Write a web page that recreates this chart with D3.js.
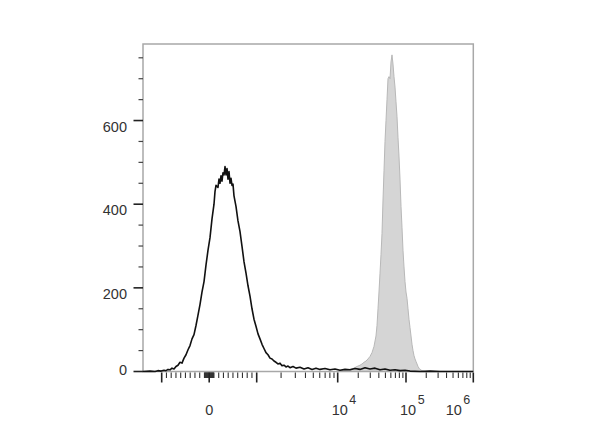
<!DOCTYPE html>
<html>
<head>
<meta charset="utf-8">
<script src="https://cdn.jsdelivr.net/npm/d3@7/dist/d3.min.js"></script>
<style>
  html, body { margin: 0; padding: 0; background: #fff; }
  svg { display: block; }
  text { font-family: "Liberation Sans", Arial, sans-serif; fill: #333; }
</style>
</head>
<body>
<svg id="chart" width="600" height="448"></svg>
<script>
// ---------------- DATA ----------------
// Control (black line) histogram: fluorescence intensity -> count
const blackX = [-2480,-1760,-1380,-1200,-1030,-951,-909,-867,-825,-783,-741,-699,-657,-615,-573,-530,-488,-446,-404,-362,-320,-278,-236,-194,-152,-109,-67,-25,17,59,101,122,143,185,206,227,248,269,290,312,333,354,375,396,417,438,459,480,501,522,564,606,648,690,733,775,817,859,901,943,985,1038,1098,1163,1230,1302,1379,1459,1545,1635,1731,1832,1940,2053,2173,2301,2435,2578,2806,3057,3424,3837,4299,4816,5397,6046,6970,8035,9262,10800,12790,15140,17920,21210,25100,29720,35170,41630,49270,58320,69020,81700,96690,114700,161400,227300,320000,450700,634500,1000000];
const blackCounts = [0,1,0,2,1,3,2,5,4,8,6,12,15,22,20,32,40,52,62,78,88,110,135,160,190,215,255,290,320,365,400,430,445,440,460,450,468,455,475,470,490,470,485,460,478,450,462,445,448,420,395,360,335,300,262,235,205,180,150,125,108,90,78,65,55,45,40,32,30,25,22,18,20,14,15,11,13,9,12,8,10,6,9,5,8,5,7,4,6,3,5,4,7,5,9,6,8,4,6,3,4,2,3,1,0,1,0,0,0,0];

// Stained sample (grey filled) histogram
const greyX = [10800,12790,15140,17330,19180,21210,22690,24270,25960,27770,29720,31780,34000,36370,37620,38910,40240,41630,43050,44530,46060,47640,49270,50960,52710,54510,56380,58320,60310,62370,64510,66720,69020,71380,73820,76350,78970,81700,84490,87380,90370,93480,96690,100000,103500,107100,110800,114700,118700,122800,127100,131500,136000,140800,145700,150800,156000,161400,172900,191600,227300];
const greyCounts = [2,3,5,8,12,15,18,22,25,30,36,45,60,85,110,150,190,235,280,330,410,480,550,600,650,700,705,700,740,757,735,705,680,645,610,560,515,460,395,345,290,250,215,190,175,150,125,105,85,65,50,38,30,24,18,12,8,5,2,0,0];

// Axes
const yMax = 783;
const yMajorTicks = [0, 200, 400, 600];
const yMinorStep = 50;
const xMin = -2480, xMax = 1000000;
const xMajorTicks = [-1000, 0, 1000, 10000, 100000, 1000000];
const xLabelValues = [0, 10000, 100000, 1000000];
const xLabelExps = [null, "4", "5", "6"];

// ---------------- SCALES ----------------
// biexponential-style display transform: linear within ±1000, log beyond
function bt(v) {
  const a = Math.abs(v);
  if (a <= 1000) return v / 1000;
  return Math.sign(v) * (1 + Math.log10(a / 1000));
}
const L = 143, R = 473.3, T = 44, B = 371.5;
const tx = d3.scaleLinear()
  .domain([bt(xMin), bt(-1000), bt(1000), bt(10000), bt(100000), bt(xMax)])
  .range([L, 161.7, 256.7, 337.7, 406, R]);
const x = v => tx(bt(v));
const y = d3.scaleLinear().domain([0, yMax]).range([B, T]);

const svg = d3.select("#chart");

// grey filled histogram
const greyData = greyX.map((v, i) => [v, greyCounts[i]]);
svg.append("path")
  .datum(greyData)
  .attr("d", d3.area().x(d => x(d[0])).y0(y(0)).y1(d => y(d[1])))
  .attr("fill", "#d5d5d5")
  .attr("stroke", "#b8b8b8")
  .attr("stroke-width", 1);

// frame
svg.append("rect")
  .attr("x", L).attr("y", T)
  .attr("width", R - L).attr("height", B - T)
  .attr("fill", "none")
  .attr("stroke", "#a8a8a8")
  .attr("stroke-width", 1.5);

// black line histogram
const blackData = blackX.map((v, i) => [v, blackCounts[i]]);
svg.append("path")
  .datum(blackData)
  .attr("d", d3.line().x(d => x(d[0])).y(d => y(d[1])))
  .attr("fill", "none")
  .attr("stroke", "#111")
  .attr("stroke-width", 1.6)
  .attr("stroke-linejoin", "round");

// ---------------- Y AXIS ----------------
const gy = svg.append("g");
const yMinor = d3.range(yMinorStep, yMax, yMinorStep).filter(v => !yMajorTicks.includes(v));
gy.selectAll("line.minor").data(yMinor).join("line")
  .attr("x1", L - 4.5).attr("x2", L)
  .attr("y1", d => y(d)).attr("y2", d => y(d))
  .attr("stroke", "#444").attr("stroke-width", 1.2);
gy.selectAll("line.major").data(yMajorTicks).join("line")
  .attr("x1", L - 9.5).attr("x2", L)
  .attr("y1", d => y(d)).attr("y2", d => y(d))
  .attr("stroke", "#222").attr("stroke-width", 1.6);
gy.selectAll("text").data(yMajorTicks).join("text")
  .attr("x", 127)
  .attr("y", d => y(d) + (d === 0 ? 3 : 11))
  .attr("text-anchor", "end")
  .attr("font-size", 14.5)
  .text(d => d);

// ---------------- X AXIS ----------------
const gx = svg.append("g");
let xMinor = [];
for (let v = -900; v <= 900; v += 100) if (v !== 0) xMinor.push(v);
for (let v = -90; v <= 90; v += 10) if (v !== 0) xMinor.push(v);
[1000, 10000, 100000].forEach(dec => {
  for (let k = 2; k <= 9; k++) xMinor.push(k * dec);
});
gx.selectAll("line.minor").data(xMinor).join("line")
  .attr("x1", d => x(d)).attr("x2", d => x(d))
  .attr("y1", B + 1).attr("y2", B + 6.5)
  .attr("stroke", "#333").attr("stroke-width", 1.1);
gx.selectAll("line.major").data(xMajorTicks).join("line")
  .attr("x1", d => x(d)).attr("x2", d => x(d))
  .attr("y1", B + 1).attr("y2", B + 11)
  .attr("stroke", "#222").attr("stroke-width", 1.6);

const labels = gx.selectAll("text").data(xLabelValues).join("text")
  .attr("font-size", 14.5)
  .attr("y", 415);
labels.each(function(d, i) {
  const t = d3.select(this);
  const exp = xLabelExps[i];
  if (!exp) {
    t.attr("x", x(d)).attr("text-anchor", "middle").text(d);
  } else {
    const last = i === xLabelValues.length - 1;
    t.attr("x", last ? x(d) - 3 : x(d) - 6)
     .attr("text-anchor", last ? "end" : "start");
    t.append("tspan").text("10");
    t.append("tspan").attr("dx", 1.5).attr("dy", -11).attr("font-size", 12.5).text(exp);
  }
});
</script>
</body>
</html>
